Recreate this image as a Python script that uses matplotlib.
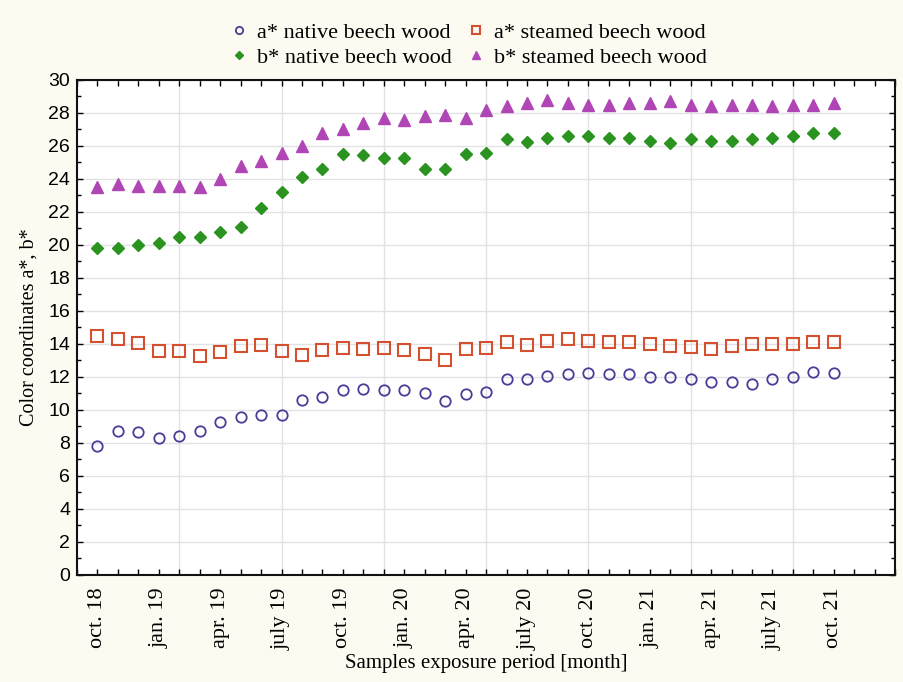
import numpy as np
import matplotlib.pyplot as plt
from matplotlib.ticker import MultipleLocator

# mesicni mereni, okt. 2018 - okt. 2021
months = np.arange(1, 38)
tick_pos = [1, 4, 7, 10, 13, 16, 19, 22, 25, 28, 31, 34, 37]
tick_labels = ['oct. 18', 'jan. 19', 'apr. 19', 'july 19', 'oct. 19', 'jan. 20', 'apr. 20',
               'july 20', 'oct. 20', 'jan. 21', 'apr. 21', 'july 21', 'oct. 21']

a_native = [7.8, 8.7, 8.65, 8.3, 8.4, 8.7, 9.25, 9.6, 9.7, 9.7, 10.6, 10.8, 11.2, 11.25, 11.2,
            11.2, 11.05, 10.55, 10.95, 11.1, 11.85, 11.9, 12.05, 12.2, 12.25, 12.2, 12.2, 12.0,
            12.0, 11.9, 11.7, 11.7, 11.6, 11.9, 12.0, 12.3, 12.25]
a_steamed = [14.5, 14.3, 14.05, 13.55, 13.6, 13.25, 13.5, 13.9, 13.95, 13.6, 13.35, 13.65, 13.75,
             13.7, 13.75, 13.65, 13.4, 13.0, 13.7, 13.75, 14.1, 13.95, 14.15, 14.3, 14.2, 14.1,
             14.1, 14.0, 13.9, 13.8, 13.7, 13.9, 14.0, 14.0, 14.0, 14.1, 14.1]
b_native = [19.8, 19.8, 20.0, 20.1, 20.5, 20.5, 20.8, 21.1, 22.25, 23.2, 24.15, 24.6, 25.5, 25.45,
            25.3, 25.25, 24.6, 24.6, 25.5, 25.6, 26.45, 26.25, 26.5, 26.6, 26.6, 26.5, 26.5, 26.3,
            26.2, 26.4, 26.3, 26.3, 26.4, 26.5, 26.6, 26.8, 26.8]
b_steamed = [23.5, 23.7, 23.6, 23.6, 23.6, 23.5, 24.0, 24.8, 25.1, 25.6, 26.0, 26.8, 27.0, 27.4,
             27.7, 27.6, 27.8, 27.9, 27.7, 28.2, 28.4, 28.6, 28.8, 28.6, 28.5, 28.5, 28.6, 28.6,
             28.7, 28.5, 28.4, 28.5, 28.5, 28.4, 28.5, 28.5, 28.6]

serif = ['Liberation Serif', 'DejaVu Serif']
bg = '#fdfbf1'

fig = plt.figure(figsize=(9.04, 6.82), dpi=100, facecolor=bg)
ax = fig.add_axes([0.0852, 0.157, 0.905, 0.7257])
ax.set_facecolor('white')

h1, = ax.plot(months, a_native, 'o', ls='none', mfc='none', mec='#4a3c98', mew=1.3, ms=7.5,
              label='a* native beech wood')
h2, = ax.plot(months, a_steamed, 's', ls='none', mfc='none', mec='#d4502e', mew=1.5, ms=8,
              label='a* steamed beech wood')
h3, = ax.plot(months, b_native, 'D', ls='none', color='#2b9320', ms=6,
              label='b* native beech wood')
h4, = ax.plot(months, b_steamed, '^', ls='none', color='#b046b6', ms=8.5,
              label='b* steamed beech wood')

ax.set_xlim(0, 40)
ax.set_ylim(0, 30)

# svisle mrizky po 5 bodech
for xg in range(5, 40, 5):
    ax.axvline(xg, color='#e2e2e6', lw=1, zorder=0)
ax.yaxis.set_major_locator(MultipleLocator(2))
ax.yaxis.set_minor_locator(MultipleLocator(1))
ax.grid(axis='y', color='#e2e2e6', lw=1, zorder=0)
ax.set_axisbelow(True)

ax.set_xticks(tick_pos)
ax.set_xticklabels(tick_labels, rotation=90, family=serif, fontsize=16)
ax.xaxis.set_minor_locator(MultipleLocator(1))
ax.tick_params(which='both', direction='in', top=True, right=True, length=4, width=1)
ax.tick_params(axis='y', which='minor', length=3)
ax.tick_params(axis='x', pad=9)
ax.tick_params(axis='y', pad=5)
for t in ax.get_yticklabels():
    t.set_family(['Liberation Sans', 'DejaVu Sans'])
    t.set_fontsize(14)

for s in ax.spines.values():
    s.set_linewidth(1.5)
    s.set_color('#111111')

ax.set_xlabel('Samples exposure period [month]', family=serif, fontsize=15, labelpad=3)
ax.set_ylabel('Color coordinates a*, b*', family=serif, fontsize=14.5, labelpad=7)

leg = fig.legend([h1, h3, h2, h4], [h.get_label() for h in (h1, h3, h2, h4)],
                 loc='upper center', bbox_to_anchor=(0.518, 0.997), ncol=2, frameon=False,
                 prop={'family': serif, 'size': 16}, handletextpad=0.4, columnspacing=0.7,
                 labelspacing=0.2, markerscale=0.7, handlelength=0.8)

fig.savefig('out.png', dpi=100, facecolor=bg)
